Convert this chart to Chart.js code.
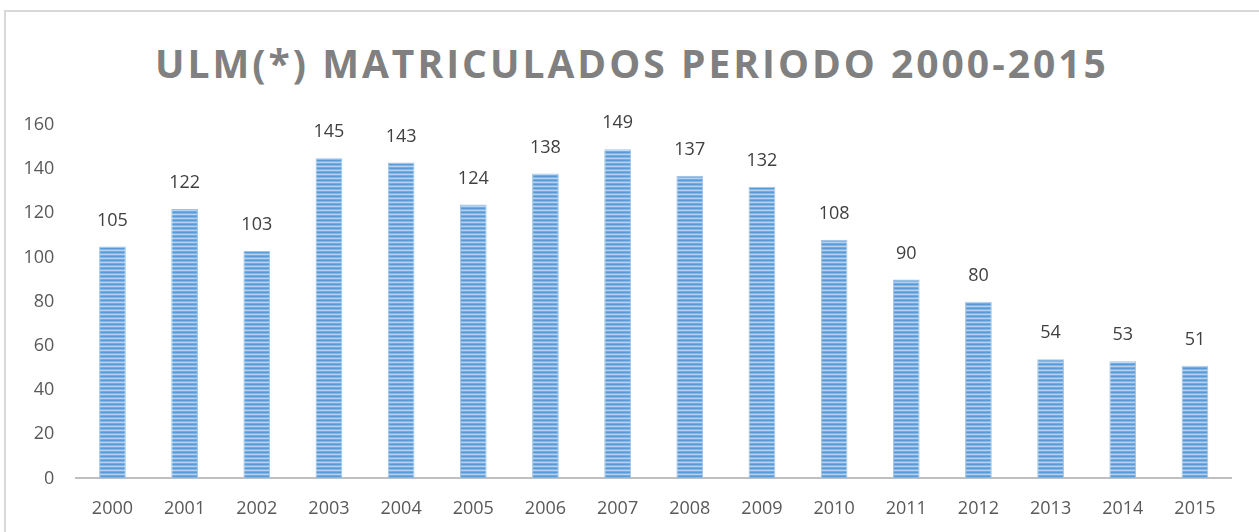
<!DOCTYPE html>
<html>
<head>
<meta charset="utf-8">
<script src="https://cdn.jsdelivr.net/npm/chart.js@4/dist/chart.umd.min.js"></script>
<style>
    html, body { margin: 0; padding: 0; background: #fff; }
    #wrap { position: relative; width: 1259px; height: 532px; overflow: hidden; }
    #frame { position: absolute; left: 4px; top: 10px; width: 1270px; height: 540px; border: 2px solid #d9d9d9; box-sizing: border-box; }
    #title { position: absolute; left: 0; top: 36px; width: 1264px; text-align: center; font-family: "Open Sans", sans-serif; font-weight: bold; font-size: 39px; letter-spacing: 3px; color: #808080; line-height: 54px; }
    canvas { position: absolute; left: 0; top: 0; }
</style>
</head>
<body>
<div id="wrap">
    <div id="frame"></div>
    <div id="title">ULM(*) MATRICULADOS PERIODO 2000-2015</div>
    <!-- canvas a bit taller than the window so the x axis lands where the original has it -->
    <canvas id="chart" width="1259" height="540"></canvas>
</div>
<script>
const years = ['2000', '2001', '2002', '2003', '2004', '2005', '2006', '2007',
    '2008', '2009', '2010', '2011', '2012', '2013', '2014', '2015'];
const enrolled = [105, 122, 103, 145, 143, 124, 138, 149, 137, 132, 108, 90, 80, 54, 53, 51];
const yTicks = [0, 20, 40, 60, 80, 100, 120, 140, 160];

function make_stripes() {
    // horizontal stripe fill like the office "narrow horizontal" pattern
    const c = document.createElement('canvas');
    c.width = 1;
    c.height = 4;
    const g = c.getContext('2d');
    const rows = ['#5b9bd5', '#87b5e2', '#b5d1ef', '#76a9dc'];
    rows.forEach((col, i) => {
        g.fillStyle = col;
        g.fillRect(0, i, 1, 1);
    });
    return g.createPattern(c, 'repeat');
}

const valueLabels = {
    id: 'valueLabels',
    afterDatasetsDraw(chart) {
        const ctx = chart.ctx;
        const meta = chart.getDatasetMeta(0);
        ctx.save();
        ctx.font = '18px "Open Sans", sans-serif';
        ctx.fillStyle = '#404040';
        ctx.textAlign = 'center';
        ctx.textBaseline = 'middle';
        meta.data.forEach((bar, i) => {
            ctx.fillText(String(enrolled[i]), bar.x, bar.y - 26);
        });
        ctx.restore();
    }
};

const canvas = document.getElementById('chart').getContext('2d');
const config = {
    type: 'bar',
    data: {
        labels: years,
        datasets: [{
            data: enrolled,
            backgroundColor: make_stripes(),
            borderColor: '#9dc3e6',
            borderWidth: 1,
            barPercentage: 0.37,
            categoryPercentage: 1
        }]
    },
    options: {
        responsive: false,
        animation: false,
        layout: { padding: { top: 125, left: 1.5, right: 28, bottom: 0 } },
        plugins: {
            legend: { display: false },
            tooltip: { enabled: false }
        },
        scales: {
            x: {
                grid: { display: false, drawTicks: false },
                border: { display: true, color: '#bfbfbf', width: 2 },
                ticks: { color: '#595959', font: { family: 'Open Sans', size: 18 }, padding: 20, maxRotation: 0 }
            },
            y: {
                min: 0,
                max: 160,
                afterBuildTicks: (axis) => { axis.ticks = yTicks.map(v => ({ value: v })); },
                grid: { display: false, drawTicks: false },
                border: { display: false },
                ticks: { color: '#595959', font: { family: 'Open Sans', size: 18 }, padding: 22 }
            }
        }
    },
    plugins: [valueLabels]
};

const myChart = new Chart(canvas, config);
</script>
</body>
</html>
